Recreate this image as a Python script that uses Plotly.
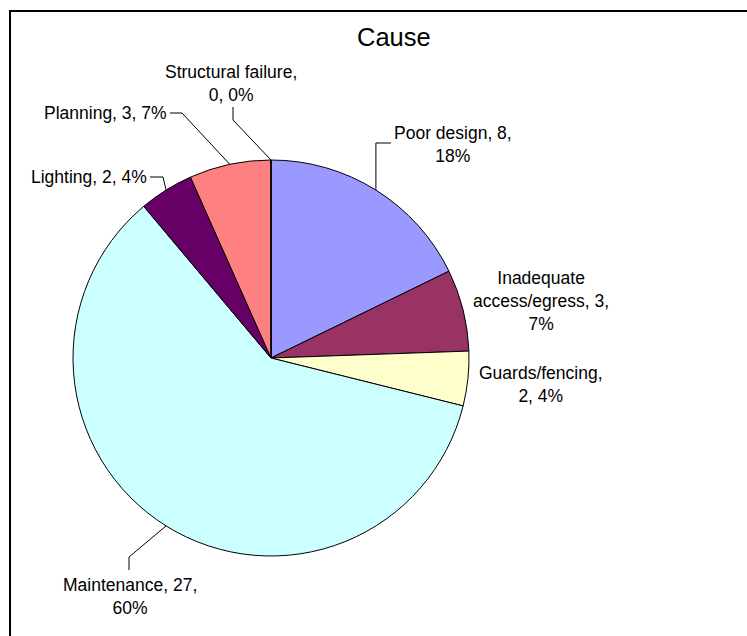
import math
import textwrap
import plotly.graph_objects as go

# ---- data ----
categories = ["Poor design", "Inadequate access/egress", "Guards/fencing",
              "Maintenance", "Lighting", "Planning", "Structural failure"]
values = [8, 3, 2, 27, 2, 3, 0]
title_text = "Cause"

# ---- styling / layout ----
colors = ["#9999FF", "#993366", "#FFFFCC", "#CCFFFF", "#660066", "#FF8080", "#0066CC"]
W, H = 747, 636
CX, CY, R = 271, 358, 198          # pie centre / radius in pixels
FONT = "Liberation Sans, Arial, sans-serif"
LABEL_SIZE = 17.5

# label placement (pixels): text anchor x, y, xanchor, wrap width, leader points after the slice edge point
label_layout = {
    "Poor design":              dict(x=453, y=144, xa="center", wrap=15, leader=[(None, 143), (391, 143)]),
    "Inadequate access/egress": dict(x=541, y=301, xa="center", wrap=17, leader=None),
    "Guards/fencing":           dict(x=541, y=384, xa="center", wrap=15, leader=None),
    "Maintenance":              dict(x=130, y=596, xa="center", wrap=16, leader=[(129, 557), (129, 570)]),
    "Lighting":                 dict(x=149, y=177, xa="right", wrap=40, leader=[(163, 177), (150, 177)]),
    "Planning":                 dict(x=169, y=113, xa="right", wrap=40, leader=[(182, 113), (170, 113)]),
    "Structural failure":       dict(x=231, y=83, xa="center", wrap=19, leader=[(233, 120), (233, 107)]),
}

total = sum(values)

fig = go.Figure()
fig.add_trace(go.Pie(
    labels=categories, values=values, sort=False, direction="clockwise", rotation=0,
    marker=dict(colors=colors, line=dict(color="black", width=1)),
    textinfo="none", hoverinfo="label+value+percent", showlegend=False,
    domain=dict(x=[(CX - R) / W, (CX + R) / W], y=[1 - (CY + R) / H, 1 - (CY - R) / H]),
))

annotations = [dict(x=394, y=37, xref="x", yref="y", text=title_text, showarrow=False,
                    font=dict(family=FONT, size=25.5, color="black"), xanchor="center", yanchor="middle")]
shapes = []

cum = 0
for cat, v in zip(categories, values):
    mid = (cum + v / 2) / total * 2 * math.pi
    cum += v
    ex = CX + R * math.sin(mid)
    ey = CY - R * math.cos(mid)
    pct = round(v / total * 100)
    lay = label_layout[cat]
    txt = "<br>".join(textwrap.wrap(f"{cat}, {v}, {pct}%", lay["wrap"]))
    annotations.append(dict(x=lay["x"], y=lay["y"], xref="x", yref="y", text=txt, showarrow=False,
                            align="center", xanchor=lay["xa"], yanchor="middle",
                            font=dict(family=FONT, size=LABEL_SIZE, color="black")))
    if lay["leader"]:
        pts = [(ex, ey)]
        for px, py in lay["leader"]:
            pts.append((ex if px is None else px, py))
        path = "M " + " L ".join(f"{px:.1f},{py:.1f}" for px, py in pts)
        shapes.append(dict(type="path", path=path, xref="x", yref="y",
                           line=dict(color="black", width=1)))

# chart frame (left and top edges visible)
shapes.append(dict(type="path", path=f"M 10,{H} L 10,11 L {W},11", xref="x", yref="y",
                   line=dict(color="black", width=2)))

fig.update_layout(
    width=W, height=H, margin=dict(l=0, r=0, t=0, b=0),
    paper_bgcolor="white", plot_bgcolor="rgba(0,0,0,0)",
    xaxis=dict(range=[0, W], visible=False, fixedrange=True),
    yaxis=dict(range=[H, 0], visible=False, fixedrange=True),
    annotations=annotations, shapes=shapes,
)
fig.write_html("out.html")
